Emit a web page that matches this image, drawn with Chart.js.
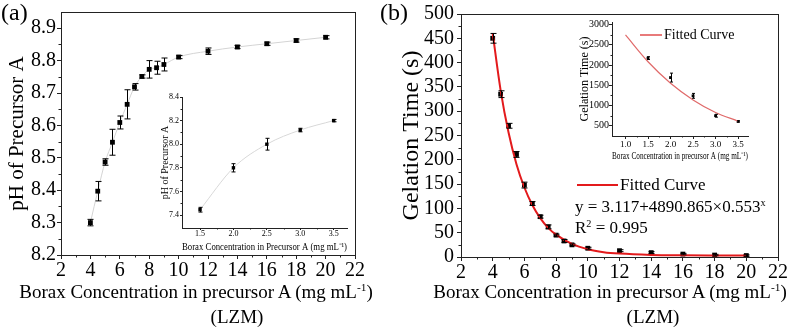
<!DOCTYPE html>
<html>
<head>
<meta charset="utf-8">
<script src="https://cdn.jsdelivr.net/npm/chart.js@4.4.1/dist/chart.umd.min.js"></script>
<style>
  html, body { margin: 0; padding: 0; background: #fff; }
  #wrap { position: relative; width: 790px; height: 330px; overflow: hidden;
          font-family: 'Liberation Serif', 'Times New Roman', serif; color: #000; }
  canvas { position: absolute; }
  .t { position: absolute; white-space: nowrap; line-height: 1; }
  .c { transform: translateX(-50%); }
  .t sup { font-size: 0.6em; vertical-align: 0.6em; line-height: 0; }
  .line { position: absolute; }
</style>
</head>
<body>
<div id="wrap">
  <canvas id="mainA" width="400" height="330" style="left:0;top:0"></canvas>
  <canvas id="insetA" width="220" height="170" style="left:140px;top:85px"></canvas>
  <canvas id="mainB" width="390" height="330" style="left:400px;top:0"></canvas>
  <canvas id="insetB" width="210" height="152" style="left:560px;top:10px"></canvas>

  <div class="t" style="left:1px;top:0;font-size:24px">(a)</div>
  <div class="t" style="left:380px;top:0;font-size:24px">(b)</div>

  <div class="t c" style="left:196px;top:282px;font-size:19px">Borax Concentration in precursor A (mg mL<sup>-1</sup>)</div>
  <div class="t c" style="left:237px;top:307px;font-size:19px">(LZM)</div>
  <div class="t c" style="left:610px;top:282px;font-size:19px">Borax Concentration in precursor A (mg mL<sup>-1</sup>)</div>
  <div class="t c" style="left:653px;top:307px;font-size:19px">(LZM)</div>

  <div class="line" style="left:577px;top:184px;width:41px;height:2px;background:#e31a1c"></div>
  <div class="t" style="left:620px;top:176px;font-size:17px">Fitted Curve</div>
  <div class="t" style="left:575px;top:198px;font-size:17px">y = 3.117+4890.865&times;0.553<sup>x</sup></div>
  <div class="t" style="left:575px;top:219px;font-size:17px">R<sup>2</sup> = 0.995</div>

  <div class="line" style="left:640px;top:34px;width:22px;height:2px;background:#e87a7a"></div>
  <div class="t" style="left:664px;top:28px;font-size:14px">Fitted Curve</div>
</div>

<script>
// ----- data: panel (a) -----
const concA = [4, 4.5, 5, 5.5, 6, 6.5, 7, 7.5, 8, 8.5, 9, 10, 12, 14, 16, 18, 20];
const phA = [8.30, 8.397, 8.487, 8.548, 8.609, 8.665, 8.719, 8.751, 8.773, 8.778, 8.788, 8.811, 8.829, 8.842, 8.852, 8.862, 8.872];
const phErrA = [0.01, 0.03, 0.01, 0.04, 0.02, 0.045, 0.01, 0.005, 0.027, 0.02, 0.02, 0.005, 0.01, 0.005, 0.005, 0.005, 0.005];
const xTicksMain = [2, 4, 6, 8, 10, 12, 14, 16, 18, 20, 22];
const phTicks = [8.2, 8.3, 8.4, 8.5, 8.6, 8.7, 8.8, 8.9];

const insetConcA = [1.5, 2.0, 2.5, 3.0, 3.5];
const insetPhA = [7.445, 7.80, 8.00, 8.12, 8.20];
const insetPhErrA = [0.02, 0.035, 0.05, 0.015, 0.01];
const insetXTicksA = [1.5, 2.0, 2.5, 3.0, 3.5];
const insetPhTicks = [7.4, 7.6, 7.8, 8.0, 8.2, 8.4];

// ----- data: panel (b) -----
const concB = [4, 4.5, 5, 5.5, 6, 6.5, 7, 7.5, 8, 8.5, 9, 10, 12, 14, 16, 18, 20];
const timeB = [450, 335, 270, 211, 148, 110, 83, 62, 45, 33, 25, 18, 13, 9, 6, 4, 3];
const timeErrB = [10, 7, 5, 6, 6, 4, 3, 4, 2, 3, 2, 2, 2, 2, 1.5, 1.5, 1.5];
const fitConcB = [4, 4.5, 5, 5.5, 6, 6.5, 7, 7.5, 8, 9, 10, 11, 12, 14, 16, 18, 20];
const fitTimeB = [460, 343, 256, 191, 143, 107, 80, 60, 46, 27, 16, 10, 7, 4.3, 3.5, 3.2, 3.1];
const timeTicks = [0, 50, 100, 150, 200, 250, 300, 350, 400, 450, 500];

const insetConcB = [1.5, 2.0, 2.5, 3.0, 3.5];
const insetTimeB = [2170, 1690, 1240, 750, 610];
const insetTimeErrB = [35, 110, 60, 35, 15];
const insetFitConcB = [1.0, 1.5, 2.0, 2.5, 3.0, 3.5];
const insetFitTimeB = [2740, 2080, 1550, 1140, 830, 615];
const insetXTicksB = [1.0, 1.5, 2.0, 2.5, 3.0, 3.5];
const insetTimeTicks = [500, 1000, 1500, 2000, 2500, 3000];

Chart.defaults.font.family = "'Liberation Serif', 'Times New Roman', serif";
Chart.defaults.color = '#000';

const pts = (xs, ys) => xs.map((x, i) => ({ x: x, y: ys[i] }));
const mids = arr => arr.slice(1).map((v, i) => (v + arr[i]) / 2);

// error bars drawn through the y scale
const errorBars = {
  id: 'errorBars',
  afterDatasetsDraw(chart) {
    const ctx = chart.ctx, ys = chart.scales.y;
    chart.data.datasets.forEach((ds, i) => {
      if (!ds.errors) return;
      const meta = chart.getDatasetMeta(i);
      ctx.save();
      ctx.strokeStyle = '#000';
      ctx.lineWidth = 1;
      ctx.beginPath();
      meta.data.forEach((el, j) => {
        const v = ds.data[j].y, e = ds.errors[j];
        const x = Math.round(el.x) + 0.5;
        const t = ys.getPixelForValue(v + e), b = ys.getPixelForValue(v - e);
        const w = ds.capHalf;
        ctx.moveTo(x, t); ctx.lineTo(x, b);
        ctx.moveTo(x - w, t); ctx.lineTo(x + w, t);
        ctx.moveTo(x - w, b); ctx.lineTo(x + w, b);
      });
      ctx.stroke();
      ctx.restore();
    });
  }
};

// short minor ticks + optional frame
const extras = {
  id: 'extras',
  afterDraw(chart, args, o) {
    const ctx = chart.ctx, xs = chart.scales.x, ys = chart.scales.y, a = chart.chartArea;
    ctx.save();
    ctx.strokeStyle = '#222';
    ctx.lineWidth = 1;
    ctx.beginPath();
    (o.minorX || []).forEach(v => {
      const p = Math.round(xs.getPixelForValue(v)) + 0.5;
      ctx.moveTo(p, a.bottom); ctx.lineTo(p, a.bottom + o.len);
    });
    (o.minorY || []).forEach(v => {
      const p = Math.round(ys.getPixelForValue(v)) + 0.5;
      ctx.moveTo(a.left - o.len, p); ctx.lineTo(a.left, p);
    });
    ctx.stroke();
    if (o.frame) {
      ctx.strokeRect(Math.round(a.left) + 0.5, Math.round(a.top) + 0.5,
                     Math.round(a.right - a.left), Math.round(a.bottom - a.top));
    }
    ctx.restore();
  }
};

function scale(c) {
  return {
    type: 'linear',
    position: c.pos,
    min: c.min,
    max: c.max,
    afterBuildTicks: ax => { ax.ticks = c.ticks.map(v => ({ value: v })); },
    afterFit: ax => { if (c.pos === 'bottom') ax.height = c.size; else ax.width = c.size; },
    ticks: {
      autoSkip: false, maxRotation: 0, minRotation: 0,
      padding: c.pad,
      font: { size: c.fs, lineHeight: 1 },
      color: '#000',
      callback: v => c.fmt(v)
    },
    grid: { drawOnChartArea: false, drawTicks: true, tickLength: c.tl, color: '#222' },
    border: { display: true, color: '#222', width: 1 },
    title: {
      display: !!c.title,
      text: c.title || '',
      color: '#000',
      font: { size: c.tfs || 10, lineHeight: 1 },
      padding: c.tpad || 0
    }
  };
}

const common = {
  responsive: false,
  animation: false,
  devicePixelRatio: 1,
  events: []
};

// ----- (a) main -----
new Chart(document.getElementById('mainA'), {
  type: 'scatter',
  data: {
    datasets: [
      {
        data: pts(concA, phA),
        errors: phErrA, capHalf: 3,
        pointStyle: 'rect', pointRadius: 3.4, backgroundColor: '#000', borderWidth: 0,
        order: 0
      },
      {
        data: pts(concA, phA),
        showLine: true, pointRadius: 0, borderColor: '#d4d4d4', borderWidth: 1,
        cubicInterpolationMode: 'monotone',
        order: 1
      }
    ]
  },
  options: {
    ...common,
    layout: { padding: { left: 0, top: 12, right: 45, bottom: 0 } },
    plugins: {
      legend: { display: false }, tooltip: { enabled: false },
      extras: { minorX: mids(xTicksMain), minorY: mids(phTicks), len: 2.5, frame: true }
    },
    scales: {
      x: scale({ pos: 'bottom', min: 2, max: 22, ticks: xTicksMain, fmt: v => String(v),
                 size: 75, fs: 20, tl: 4, pad: 2 }),
      y: scale({ pos: 'left', min: 8.2, max: 8.95, ticks: phTicks, fmt: v => v.toFixed(1),
                 size: 61, fs: 20, tl: 4, pad: 1,
                 title: 'pH of Precursor A', tfs: 21, tpad: { top: 7, bottom: 0 } })
    }
  },
  plugins: [errorBars, extras]
});

// ----- (a) inset -----
new Chart(document.getElementById('insetA'), {
  type: 'scatter',
  data: {
    datasets: [
      {
        data: pts(insetConcA, insetPhA),
        errors: insetPhErrA, capHalf: 2,
        pointStyle: 'rect', pointRadius: 2.4, backgroundColor: '#000', borderWidth: 0,
        order: 0
      },
      {
        data: pts(insetConcA, insetPhA),
        showLine: true, pointRadius: 0, borderColor: '#d8d8d8', borderWidth: 1,
        cubicInterpolationMode: 'monotone',
        order: 1
      }
    ]
  },
  options: {
    ...common,
    layout: { padding: { left: 0, top: 12, right: 13, bottom: 0 } },
    plugins: {
      legend: { display: false }, tooltip: { enabled: false },
      extras: { minorX: mids(insetXTicksA), minorY: mids(insetPhTicks), len: 1.5, frame: false }
    },
    scales: {
      x: scale({ pos: 'bottom', min: 1.23, max: 3.7, ticks: insetXTicksA, fmt: v => v.toFixed(1),
                 size: 27, fs: 8, tl: 2, pad: 0,
                 title: 'Borax Concentration in Precursor A (mg mL\u207B\u00B9)', tfs: 10,
                 tpad: { top: 0, bottom: 3 } }),
      y: scale({ pos: 'left', min: 7.29, max: 8.4, ticks: insetPhTicks, fmt: v => v.toFixed(1),
                 size: 42, fs: 8, tl: 2, pad: 1,
                 title: 'pH of Precursor A', tfs: 10, tpad: { top: 20, bottom: 0 } })
    }
  },
  plugins: [errorBars, extras]
});

// ----- (b) main -----
new Chart(document.getElementById('mainB'), {
  type: 'scatter',
  data: {
    datasets: [
      {
        data: pts(concB, timeB),
        errors: timeErrB, capHalf: 3,
        pointStyle: 'rect', pointRadius: 3.4, backgroundColor: '#000', borderWidth: 0,
        order: 1
      },
      {
        data: pts(fitConcB, fitTimeB),
        showLine: true, pointRadius: 0, borderColor: '#e31a1c', borderWidth: 2,
        cubicInterpolationMode: 'monotone',
        order: 0
      }
    ]
  },
  options: {
    ...common,
    layout: { padding: { left: 0, top: 14, right: 10, bottom: 0 } },
    plugins: {
      legend: { display: false }, tooltip: { enabled: false },
      extras: { minorX: mids(xTicksMain), minorY: mids(timeTicks), len: 2.5, frame: true }
    },
    scales: {
      x: scale({ pos: 'bottom', min: 2, max: 22, ticks: xTicksMain, fmt: v => String(v),
                 size: 73, fs: 20, tl: 4, pad: 2 }),
      y: scale({ pos: 'left', min: 0, max: 500, ticks: timeTicks, fmt: v => String(v),
                 size: 61, fs: 20, tl: 4, pad: 3,
                 title: 'Gelation Time (s)', tfs: 24, tpad: { top: 0, bottom: 0 } })
    }
  },
  plugins: [errorBars, extras]
});

// ----- (b) inset -----
new Chart(document.getElementById('insetB'), {
  type: 'scatter',
  data: {
    datasets: [
      {
        data: pts(insetConcB, insetTimeB),
        errors: insetTimeErrB, capHalf: 1.5,
        pointStyle: 'rect', pointRadius: 2, backgroundColor: '#000', borderWidth: 0,
        order: 1
      },
      {
        data: pts(insetFitConcB, insetFitTimeB),
        showLine: true, pointRadius: 0, borderColor: '#e06a6a', borderWidth: 1.2,
        cubicInterpolationMode: 'monotone',
        order: 0
      }
    ]
  },
  options: {
    ...common,
    layout: { padding: { left: 0, top: 12, right: 22, bottom: 0 } },
    plugins: {
      legend: { display: false }, tooltip: { enabled: false },
      extras: { minorX: mids(insetXTicksB), minorY: mids(insetTimeTicks), len: 1.5, frame: false }
    },
    scales: {
      x: scale({ pos: 'bottom', min: 0.7, max: 3.72, ticks: insetXTicksB, fmt: v => v.toFixed(1),
                 size: 26, fs: 9, tl: 3, pad: 1,
                 title: 'Borax Concentration in precursor A (mg mL\u207B\u00B9)', tfs: 10,
                 tpad: { top: 0, bottom: 1 } }),
      y: scale({ pos: 'left', min: 250, max: 3060, ticks: insetTimeTicks, fmt: v => String(v),
                 size: 52, fs: 10, tl: 3, pad: 0,
                 title: 'Gelation Time (s)', tfs: 12, tpad: { top: 19, bottom: 0 } })
    }
  },
  plugins: [errorBars, extras]
});
</script>
</body>
</html>
